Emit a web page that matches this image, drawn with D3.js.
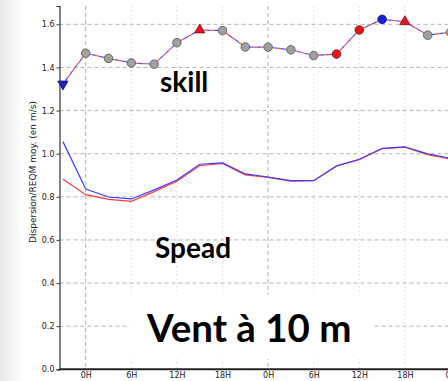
<!DOCTYPE html>
<html lang="fr">
<head>
  <meta charset="UTF-8">
  <title>Vent à 10 m - skill / spread</title>
  <script src="https://d3js.org/d3.v7.min.js"></script>
  <style>
    body { margin: 0; background: #fff; }
    svg { display: block; }
  </style>
</head>
<body>
  <svg width="448" height="381"></svg>
  <script>
    const width = 448, height = 381;

    // echeances (heures depuis le run), un point toutes les 3 h
    const hours = [-3, 0, 3, 6, 9, 12, 15, 18, 21, 24, 27, 30, 33, 36, 39, 42, 45, 48];
    const skill = [1.323, 1.466, 1.442, 1.421, 1.415, 1.515, 1.574, 1.571, 1.495,
                   1.494, 1.482, 1.455, 1.462, 1.574, 1.623, 1.612, 1.550, 1.563];
    // forme et couleur des marqueurs du skill
    const skillShape = ["down", "circle", "circle", "circle", "circle", "circle", "up", "circle", "circle",
                        "circle", "circle", "circle", "circle", "circle", "circle", "up", "circle", "circle"];
    const skillColor = ["blue", "gray", "gray", "gray", "gray", "gray", "red", "gray", "gray",
                        "gray", "gray", "gray", "red", "red", "blue", "red", "gray", "gray"];
    const spreadBlue = [1.056, 0.836, 0.799, 0.790, 0.832, 0.878, 0.951, 0.957, 0.906,
                        0.892, 0.875, 0.875, 0.944, 0.974, 1.025, 1.032, 0.999, 0.979];
    const spreadRed = [0.881, 0.810, 0.788, 0.779, 0.824, 0.872, 0.944, 0.955, 0.902,
                       0.890, 0.873, 0.875, 0.942, 0.972, 1.023, 1.030, 0.995, 0.975];
    const yTicks = [0.0, 0.2, 0.4, 0.6, 0.8, 1.0, 1.2, 1.4, 1.6];
    const xTicks = [0, 6, 12, 18, 24, 30, 36, 42, 48];

    const svg = d3.select("svg");
    const defs = svg.append("defs");

    // fond gris pale a gauche (diapo)
    const grad = defs.append("linearGradient").attr("id", "leftbg")
      .attr("x1", 0).attr("x2", 1).attr("y1", 0).attr("y2", 0);
    grad.append("stop").attr("offset", 0).attr("stop-color", "#e9e9e9");
    grad.append("stop").attr("offset", 1).attr("stop-color", "#ffffff");
    svg.append("rect").attr("x", 0).attr("y", 0).attr("width", 24).attr("height", height)
      .attr("fill", "url(#leftbg)");

    const x = d3.scaleLinear().domain([-3.45, 48]).range([59.5, 450.5]);
    const y = d3.scaleLinear().domain([0, 1.685]).range([369.3, 6]);

    const g = svg.append("g");

    // grille verticale : 0H en tirets, les autres en pointilles clairs
    g.selectAll(".vgrid").data(xTicks).enter().append("line")
      .attr("class", "vgrid")
      .attr("x1", d => x(d)).attr("x2", d => x(d))
      .attr("y1", y(1.685)).attr("y2", y(0))
      .attr("stroke", d => d % 24 === 0 ? "#b0b0b0" : "#e2e2e2")
      .attr("stroke-width", 1)
      .attr("stroke-dasharray", d => d % 24 === 0 ? "4,3" : "2,2");

    // grille horizontale
    g.selectAll(".hgrid").data(yTicks.slice(1)).enter().append("line")
      .attr("class", "hgrid")
      .attr("x1", x(-3.45)).attr("x2", width)
      .attr("y1", d => y(d)).attr("y2", d => y(d))
      .attr("stroke", "#b4b4b4")
      .attr("stroke-dasharray", "4,3");

    // boite blanche derriere le titre
    g.append("rect")
      .attr("x", 130).attr("y", 295).attr("width", 244).attr("height", 64)
      .attr("fill", "#fff");

    const pts = arr => hours.map((h, i) => [x(h), y(arr[i])]);
    const line = d3.line();

    // spread
    g.append("path").attr("d", line(pts(spreadRed)))
      .attr("fill", "none").attr("stroke", "#ff3b3b").attr("stroke-width", 1.2);
    g.append("path").attr("d", line(pts(spreadBlue)))
      .attr("fill", "none").attr("stroke", "#3d3dff").attr("stroke-width", 1.2);

    // skill : tirets rouges et bleus alternes
    g.append("path").attr("d", line(pts(skill)))
      .attr("fill", "none").attr("stroke", "#ff4a4a").attr("stroke-width", 1.2)
      .attr("stroke-dasharray", "4,4");
    g.append("path").attr("d", line(pts(skill)))
      .attr("fill", "none").attr("stroke", "#4a4aff").attr("stroke-width", 1.2)
      .attr("stroke-dasharray", "4,4").attr("stroke-dashoffset", 4);

    const fills = { gray: "#a0a0a0", red: "#e8141e", blue: "#1c1cdc" };
    const strokes = { gray: "#555", red: "#7a1010", blue: "#10106a" };
    const symType = { circle: d3.symbolCircle, up: d3.symbolTriangle, down: d3.symbolTriangle };
    const symSize = { circle: 58, up: 46, down: 46 };

    g.selectAll(".mk").data(hours).enter().append("path")
      .attr("class", "mk")
      .attr("d", (h, i) => d3.symbol().type(symType[skillShape[i]]).size(symSize[skillShape[i]])())
      .attr("transform", (h, i) => `translate(${x(h)},${y(skill[i])})` + (skillShape[i] === "down" ? " rotate(180)" : ""))
      .attr("fill", (h, i) => fills[skillColor[i]])
      .attr("stroke", (h, i) => strokes[skillColor[i]])
      .attr("stroke-width", 0.8);

    // axes
    const yAxis = g.append("g")
      .attr("transform", `translate(${x(-3.45)},0)`)
      .call(d3.axisLeft(y).tickValues(yTicks).tickFormat(d3.format(".1f")).tickSize(3).tickPadding(2));
    yAxis.select(".domain").attr("stroke", "#333").attr("stroke-width", 1.2);
    yAxis.selectAll(".tick line").attr("stroke", "#333");
    yAxis.selectAll("text").attr("font-family", "DejaVu Sans").attr("font-size", 8).attr("fill", "#222");

    const xAxis = g.append("g")
      .attr("transform", `translate(0,${y(0)})`)
      .call(d3.axisBottom(x).tickValues(xTicks).tickFormat(d => (d % 24) + "H").tickSize(0).tickPadding(3));
    xAxis.select(".domain").attr("stroke", "#222").attr("stroke-width", 2)
      .attr("d", `M${x(-3.45)},0H${width}`);
    xAxis.selectAll("text").attr("font-family", "DejaVu Sans").attr("font-size", 8).attr("fill", "#222");

    svg.append("text")
      .attr("transform", `translate(36,172) rotate(-90)`)
      .attr("text-anchor", "middle")
      .attr("font-family", "DejaVu Sans").attr("font-size", 9).attr("fill", "#222")
      .text("Dispersion/REQM moy. (en m/s)");

    // annotations
    const label = (txt, tx, ty, size) => svg.append("text")
      .attr("x", tx).attr("y", ty)
      .attr("font-family", "Lato, 'Open Sans', sans-serif").attr("font-weight", "bold")
      .attr("font-size", size).attr("fill", "#000")
      .text(txt);
    label("skill", 160, 92, 28);
    label("Spead", 155, 258, 28);
    label("Vent à 10 m", 147, 342, 38.5);
  </script>
</body>
</html>
